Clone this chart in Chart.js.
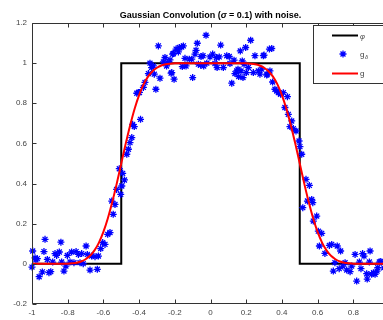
<!DOCTYPE html>
<html><head><meta charset="utf-8">
<script src="https://cdn.jsdelivr.net/npm/chart.js@4"></script>
<style>html,body{margin:0;padding:0;overflow:hidden;background:#fff}#w{position:relative;width:400px;height:320px}</style>
</head><body><div id="w"><canvas id="c"></canvas></div>
<script>
const titleParts=['Gaussian Convolution (','σ',' = 0.1) with noise.'];
const legendLabels=['φ','g','δ','g'];
const xTicks=[-1,-0.8,-0.6,-0.4,-0.2,0,0.2,0.4,0.6,0.8,1];
const yTicks=[-0.2,0,0.2,0.4,0.6,0.8,1,1.2];

const phiX=[-1,-0.5,-0.5,0.5,0.5,1];
const phiY=[0,0,1,1,0,0];

const gX=[-1,-0.9,-0.8,-0.775,-0.75,-0.725,-0.7,-0.675,-0.65,-0.625,-0.6,-0.575,-0.55,-0.525,-0.5,-0.475,-0.45,-0.425,-0.4,-0.375,-0.35,-0.325,-0.3,-0.275,-0.25,-0.225,-0.2,-0.15,-0.1,0,0.1,0.15,0.2,0.225,0.25,0.275,0.3,0.325,0.35,0.375,0.4,0.425,0.45,0.475,0.5,0.525,0.55,0.575,0.6,0.625,0.65,0.675,0.7,0.725,0.75,0.775,0.8,0.9,1];
const gY=[0,0,0.001,0.003,0.006,0.012,0.023,0.04,0.067,0.106,0.159,0.227,0.309,0.401,0.5,0.599,0.691,0.773,0.841,0.894,0.933,0.96,0.977,0.988,0.994,0.997,0.999,1,1,1,1,1,0.999,0.997,0.994,0.988,0.977,0.96,0.933,0.894,0.841,0.773,0.691,0.599,0.5,0.401,0.309,0.227,0.159,0.106,0.067,0.04,0.023,0.012,0.006,0.003,0.001,0,0];

const noiseX=[-1.0,-0.996,-0.983,-0.978,-0.97,-0.96,-0.942,-0.933,-0.927,-0.914,-0.905,-0.895,-0.884,-0.871,-0.862,-0.847,-0.838,-0.834,-0.821,-0.81,-0.802,-0.787,-0.778,-0.765,-0.753,-0.74,-0.731,-0.722,-0.713,-0.697,-0.69,-0.675,-0.666,-0.647,-0.634,-0.628,-0.615,-0.604,-0.591,-0.576,-0.563,-0.553,-0.545,-0.535,-0.526,-0.511,-0.503,-0.497,-0.492,-0.482,-0.469,-0.46,-0.451,-0.441,-0.436,-0.427,-0.413,-0.404,-0.398,-0.392,-0.376,-0.367,-0.348,-0.339,-0.33,-0.32,-0.315,-0.306,-0.292,-0.283,-0.264,-0.255,-0.246,-0.242,-0.227,-0.221,-0.217,-0.212,-0.208,-0.204,-0.193,-0.18,-0.175,-0.161,-0.158,-0.152,-0.143,-0.137,-0.119,-0.105,-0.1,-0.087,-0.081,-0.074,-0.068,-0.055,-0.053,-0.042,-0.038,-0.025,-0.021,-0.003,0.012,0.025,0.033,0.037,0.049,0.057,0.072,0.091,0.105,0.109,0.119,0.132,0.137,0.147,0.154,0.158,0.167,0.171,0.178,0.182,0.188,0.197,0.201,0.212,0.225,0.24,0.249,0.268,0.277,0.287,0.296,0.3,0.315,0.318,0.33,0.333,0.343,0.348,0.361,0.371,0.38,0.393,0.408,0.417,0.431,0.436,0.445,0.455,0.464,0.479,0.496,0.501,0.511,0.517,0.535,0.543,0.554,0.567,0.573,0.576,0.595,0.604,0.61,0.623,0.641,0.666,0.679,0.688,0.697,0.71,0.721,0.729,0.741,0.754,0.763,0.782,0.791,0.81,0.819,0.834,0.843,0.852,0.86,0.875,0.878,0.89,0.894,0.903,0.913,0.922,0.933,0.937,0.946,0.954,0.97,0.99,1.0];
const noiseY=[-0.016,0.064,0.03,0.02,0.026,-0.064,-0.04,0.061,0.122,0.022,-0.044,-0.039,0.009,0.051,0.042,0.059,0.108,0.009,-0.036,-0.011,0.042,0.009,0.059,0.006,0.061,0.047,0.006,0.051,0.001,0.089,0.047,-0.031,0.039,0.036,-0.027,0.039,0.076,0.106,0.097,0.147,0.156,0.313,0.247,0.296,0.371,0.474,0.346,0.388,0.451,0.418,0.546,0.571,0.604,0.629,0.695,0.684,0.85,0.854,0.854,0.72,0.879,0.904,0.948,1.0,0.978,0.986,0.945,0.87,1.086,0.925,1.006,1.028,0.986,1.003,1.016,0.95,0.953,1.045,1.048,0.92,1.07,1.056,1.078,1.081,0.983,1.086,1.024,0.986,1.02,1.02,0.928,1.045,1.064,1.099,0.995,0.99,1.033,1.037,0.986,1.139,1.0,1.031,1.045,0.998,1.028,0.978,1.031,1.09,0.978,1.037,1.033,0.998,0.9,1.015,0.948,0.961,0.97,0.933,1.061,0.961,1.011,0.928,0.995,1.078,0.953,0.978,1.114,0.953,1.037,0.961,0.945,0.97,1.037,1.04,0.941,0.945,1.07,0.961,1.073,0.906,0.87,0.861,0.853,0.845,0.853,0.779,0.833,0.745,0.684,0.712,0.674,0.662,0.612,0.584,0.546,0.28,0.421,0.313,0.391,0.321,0.305,0.213,0.238,0.163,0.089,0.152,0.052,0.092,0.097,-0.036,0.006,0.089,-0.024,0.064,-0.011,0.006,-0.031,-0.039,-0.011,0.047,-0.086,0.009,-0.024,0.051,0.039,-0.049,-0.076,0.009,0.064,-0.052,-0.044,-0.052,-0.036,-0.019,0.009,0.012,-0.02,0.03,-0.01];

const pts=(xs,ys)=>xs.map((v,i)=>({x:v,y:ys[i]}));
const FONT='"Liberation Sans", Arial, sans-serif';
const AX='#333';

const deco={id:'deco',afterDraw(ch){
  const ctx=ch.ctx,a=ch.chartArea,x=ch.scales.x,y=ch.scales.y;
  ctx.save();
  const L=Math.round(a.left)+0.5,R=Math.round(a.right)-0.5,T=Math.round(a.top)+0.5,B=Math.round(a.bottom)-0.5;
  ctx.strokeStyle=AX;ctx.lineWidth=1;
  ctx.beginPath();ctx.rect(L,T,R-L,B-T);ctx.stroke();
  ctx.beginPath();
  xTicks.forEach(v=>{const px=Math.round(x.getPixelForValue(v))+0.5;ctx.moveTo(px,B);ctx.lineTo(px,B-4);ctx.moveTo(px,T);ctx.lineTo(px,T+4);});
  yTicks.forEach(v=>{const py=Math.round(y.getPixelForValue(v))+0.5;ctx.moveTo(L,py);ctx.lineTo(L+4,py);ctx.moveTo(R,py);ctx.lineTo(R-4,py);});
  ctx.stroke();
  // title
  const fonts=['bold 9px '+FONT,'bold italic 9px '+FONT,'bold 9px '+FONT];
  let w=0;titleParts.forEach((s,i)=>{ctx.font=fonts[i];w+=ctx.measureText(s).width;});
  let tx=(a.left+a.right)/2-w/2;ctx.fillStyle='#000';ctx.textBaseline='alphabetic';ctx.textAlign='left';
  titleParts.forEach((s,i)=>{ctx.font=fonts[i];ctx.fillText(s,tx,17.5);tx+=ctx.measureText(s).width;});
  // legend
  ctx.fillStyle='#fff';ctx.fillRect(313.5,25.5,90,58);
  ctx.strokeStyle=AX;ctx.lineWidth=1;ctx.strokeRect(313.5,25.5,90,58);
  ctx.lineWidth=2;ctx.strokeStyle='#000';ctx.beginPath();ctx.moveTo(332,35.5);ctx.lineTo(358,35.5);ctx.stroke();
  ctx.strokeStyle='#ff0000';ctx.beginPath();ctx.moveTo(332,73.5);ctx.lineTo(358,73.5);ctx.stroke();
  ctx.strokeStyle='#0000ff';ctx.lineWidth=1.3;ctx.beginPath();
  const sx=343,sy=54,r=3.5,d=r*Math.SQRT1_2;
  ctx.moveTo(sx-r,sy);ctx.lineTo(sx+r,sy);ctx.moveTo(sx,sy-r);ctx.lineTo(sx,sy+r);
  ctx.moveTo(sx-d,sy-d);ctx.lineTo(sx+d,sy+d);ctx.moveTo(sx-d,sy+d);ctx.lineTo(sx+d,sy-d);ctx.stroke();
  ctx.fillStyle='#444';ctx.font='italic 7.5px '+FONT;ctx.fillText(legendLabels[0],360,39);
  ctx.font='8px '+FONT;ctx.fillText(legendLabels[1],360,56.5);
  const gw=ctx.measureText(legendLabels[1]).width;
  ctx.font='italic 5.5px '+FONT;ctx.fillText(legendLabels[2],360+gw+0.5,58.5);
  ctx.font='8px '+FONT;ctx.fillText(legendLabels[3],360,76);
  ctx.restore();
}};

new Chart(document.getElementById('c'),{
  type:'scatter',
  data:{datasets:[
    {label:'g',data:pts(gX,gY),showLine:true,borderColor:'#ff0000',borderWidth:2,pointRadius:0,cubicInterpolationMode:'monotone',order:0},
    {label:'gδ',data:pts(noiseX,noiseY),showLine:false,pointStyle:'star',pointRadius:3.5,borderColor:'#0000ff',backgroundColor:'#0000ff',borderWidth:1.3,clip:false,order:1},
    {label:'φ',data:pts(phiX,phiY),showLine:true,borderColor:'#000',borderWidth:2,pointRadius:0,tension:0,order:2}
  ]},
  options:{
    responsive:true,maintainAspectRatio:false,animation:false,
    layout:{padding:{top:23,right:11,left:0,bottom:0}},
    plugins:{legend:{display:false},tooltip:{enabled:false},title:{display:false}},
    scales:{
      x:{type:'linear',min:-1,max:1,
        afterBuildTicks:s=>{s.ticks=xTicks.map(v=>({value:v}));},
        afterFit:s=>{s.height=16;},
        grid:{display:false,drawTicks:false},border:{display:false},
        ticks:{padding:4,color:'#444',font:{family:FONT,size:8},maxRotation:0,autoSkip:false,callback:v=>String(Math.round(v*10)/10)}},
      y:{type:'linear',min:-0.2,max:1.2,
        afterBuildTicks:s=>{s.ticks=yTicks.map(v=>({value:v}));},
        afterFit:s=>{s.width=32;},
        grid:{display:false,drawTicks:false},border:{display:false},
        ticks:{padding:5,color:'#444',font:{family:FONT,size:8},autoSkip:false,callback:v=>String(Math.round(v*10)/10)}}
    }
  },
  plugins:[deco]
});
</script></body></html>
